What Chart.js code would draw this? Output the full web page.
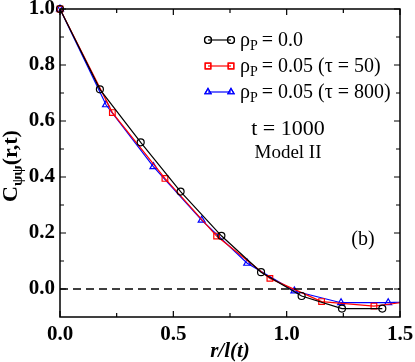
<!DOCTYPE html>
<html>
<head>
<meta charset="utf-8">
<script src="https://cdn.jsdelivr.net/npm/chart.js@4.4.0/dist/chart.umd.min.js"></script>
<style>
  html, body { margin: 0; padding: 0; background: #fff; }
  #wrap { width: 415px; height: 362px; position: relative; }
</style>
</head>
<body>
<div id="wrap"><canvas id="chart"></canvas></div>
<script>
// ==========================================
// DATA
// ==========================================
// rho_P = 0.0
const R_BLACK = [0.0, 0.176, 0.356, 0.532, 0.712, 0.887, 1.066, 1.244, 1.422];
const C_BLACK = [1.0, 0.713, 0.524, 0.348, 0.190, 0.060, -0.025, -0.070, -0.070];
// rho_P = 0.05 (tau = 50)
const R_RED = [0.0, 0.231, 0.463, 0.691, 0.926, 1.154, 1.385, 1.616];
const C_RED = [1.0, 0.630, 0.395, 0.189, 0.038, -0.045, -0.061, -0.037];
// rho_P = 0.05 (tau = 800)
const R_BLUE = [0.0, 0.203, 0.412, 0.625, 0.826, 1.034, 1.240, 1.448, 1.655];
const C_BLUE = [1.0, 0.658, 0.437, 0.246, 0.092, -0.007, -0.049, -0.049, -0.040];

const ZERO_LINE_X = [0.0, 1.5];

const X_TICKS = [0.0, 0.5, 1.0, 1.5];
const X_MINOR = [0.25, 0.75, 1.25];
const Y_TICKS = [0.0, 0.2, 0.4, 0.6, 0.8, 1.0];
const Y_MINOR = [0.1, 0.3, 0.5, 0.7, 0.9];

const SERIES_LABELS = ['= 0.0', '= 0.05 (\u03C4 = 50)', '= 0.05 (\u03C4 = 800)'];
const SERIES_COLORS = ['#000000', '#ff0000', '#0000ff'];
const SERIES_STYLES = ['circle', 'rect', 'triangle'];

const SERIF = '"Liberation Serif", "Times New Roman", serif';

function toPoints(xs, ys) {
    return xs.map((x, i) => ({ x: x, y: ys[i] }));
}

// ==========================================
// DECORATION PLUGIN (frame, inward ticks, legend, labels)
// ==========================================
const decor = {
    id: 'decor',
    afterDatasetsDraw(chart) {
        const ctx = chart.ctx;
        const a = chart.chartArea;
        const xs = chart.scales.x, ys = chart.scales.y;
        ctx.save();

        // frame
        ctx.strokeStyle = '#000';
        ctx.lineWidth = 1.5;
        ctx.strokeRect(a.left, a.top, a.right - a.left, a.bottom - a.top);

        // inward ticks
        ctx.lineWidth = 1.2;
        const tick = (v, len, horiz) => {
            ctx.beginPath();
            if (horiz) {
                const p = xs.getPixelForValue(v);
                ctx.moveTo(p, a.bottom); ctx.lineTo(p, a.bottom - len);
                ctx.moveTo(p, a.top); ctx.lineTo(p, a.top + len);
            } else {
                const p = ys.getPixelForValue(v);
                ctx.moveTo(a.left, p); ctx.lineTo(a.left + len, p);
                ctx.moveTo(a.right, p); ctx.lineTo(a.right - len, p);
            }
            ctx.stroke();
        };
        X_TICKS.forEach(v => tick(v, 6, true));
        X_MINOR.forEach(v => tick(v, 4, true));
        Y_TICKS.forEach(v => tick(v, 6, false));
        Y_MINOR.forEach(v => tick(v, 4, false));

        // legend
        const lx0 = 208, lx1 = 231, tx = 240;
        const rows = [40, 66, 92];
        rows.forEach((y, i) => {
            ctx.strokeStyle = SERIES_COLORS[i];
            ctx.lineWidth = 1.2;
            ctx.beginPath();
            ctx.moveTo(lx0, y); ctx.lineTo(lx1, y);
            ctx.stroke();
            [lx0, lx1].forEach(px => {
                ctx.fillStyle = 'rgba(0,0,0,0)';
                Chart.helpers.drawPoint(ctx, {
                    pointStyle: SERIES_STYLES[i], radius: i === 1 ? 4 : 3.5,
                    rotation: 0, borderWidth: 1.2
                }, px, y);
                ctx.stroke();
            });
            ctx.fillStyle = '#000';
            ctx.textBaseline = 'alphabetic';
            ctx.textAlign = 'left';
            const base = y + 6;
            ctx.font = '20px ' + SERIF;
            ctx.fillText('\u03C1', tx, base);
            let x = tx + ctx.measureText('\u03C1').width;
            ctx.font = '14px ' + SERIF;
            ctx.fillText('P', x, base + 4);
            x += ctx.measureText('P').width + 4;
            ctx.font = '20px ' + SERIF;
            ctx.fillText(SERIES_LABELS[i], x, base);
        });

        // annotations
        ctx.fillStyle = '#000';
        ctx.textAlign = 'center';
        ctx.font = '22px ' + SERIF;
        ctx.fillText('t = 1000', 288, 135);
        ctx.font = '19px ' + SERIF;
        ctx.fillText('Model II', 288, 158);
        ctx.font = '20px ' + SERIF;
        ctx.fillText('(b)', 363, 245);

        // x title
        ctx.font = 'italic bold 21px ' + SERIF;
        ctx.fillText('r/l(t)', (a.left + a.right) / 2, 357);

        // y title (rotated, with subscript)
        ctx.translate(17, (a.top + a.bottom) / 2 + 3);
        ctx.rotate(-Math.PI / 2);
        ctx.textAlign = 'left';
        const big = 'bold 22px ' + SERIF, small = 'bold 15px ' + SERIF;
        ctx.font = big; const w1 = ctx.measureText('C').width;
        ctx.font = small; const w2 = ctx.measureText('\u03C8\u03C8').width;
        ctx.font = big; const w3 = ctx.measureText('(r,t)').width;
        let px = -(w1 + w2 + w3) / 2;
        ctx.font = big; ctx.fillText('C', px, 0); px += w1;
        ctx.font = small; ctx.fillText('\u03C8\u03C8', px, 5); px += w2;
        ctx.font = big; ctx.fillText('(r,t)', px, 0);

        ctx.restore();
    }
};

// ==========================================
// CHART
// ==========================================
function lineSet(label, xs, ys, color, style, radius) {
    return {
        label: label,
        data: toPoints(xs, ys),
        borderColor: color,
        backgroundColor: 'rgba(0,0,0,0)',
        borderWidth: 1.2,
        pointStyle: style,
        pointRadius: radius,
        pointBorderWidth: 1.2,
        pointBorderColor: color,
        pointBackgroundColor: 'rgba(0,0,0,0)',
        tension: 0,
        clip: { left: 8, top: 8, right: 0, bottom: 0 }
    };
}

const tickFont = { family: SERIF, size: 21, weight: 'bold' };

new Chart(document.getElementById('chart'), {
    type: 'line',
    data: {
        datasets: [
            {
                label: 'zero',
                data: toPoints(ZERO_LINE_X, [0, 0]),
                borderColor: '#000',
                borderWidth: 1.5,
                borderDash: [8, 5],
                pointRadius: 0
            },
            lineSet('rho=0.0', R_BLACK, C_BLACK, '#000000', 'circle', 3.5),
            lineSet('tau=50', R_RED, C_RED, '#ff0000', 'rect', 4),
            lineSet('tau=800', R_BLUE, C_BLUE, '#0000ff', 'triangle', 4)
        ]
    },
    options: {
        responsive: true,
        maintainAspectRatio: false,
        animation: false,
        layout: { padding: { top: 9, right: 15, left: 0, bottom: 0 } },
        plugins: {
            legend: { display: false },
            tooltip: { enabled: false }
        },
        scales: {
            x: {
                type: 'linear',
                min: 0, max: 1.5,
                grid: { display: false, drawTicks: false, tickLength: 0 },
                border: { display: false },
                afterBuildTicks: s => { s.ticks = X_TICKS.map(v => ({ value: v })); },
                afterFit: s => { s.height = 45; s.paddingLeft = 0; s.paddingRight = 0; },
                ticks: {
                    font: tickFont, color: '#000', padding: 5, maxRotation: 0,
                    callback: v => v.toFixed(1)
                }
            },
            y: {
                type: 'linear',
                min: -0.1, max: 1.0,
                grid: { display: false, drawTicks: false, tickLength: 0 },
                border: { display: false },
                afterBuildTicks: s => { s.ticks = Y_TICKS.map(v => ({ value: v })); },
                afterFit: s => { s.width = 60; s.paddingTop = 0; s.paddingBottom = 0; },
                ticks: {
                    font: tickFont, color: '#000', padding: 5,
                    callback: v => v.toFixed(1)
                }
            }
        }
    },
    plugins: [decor]
});
</script>
</body>
</html>
